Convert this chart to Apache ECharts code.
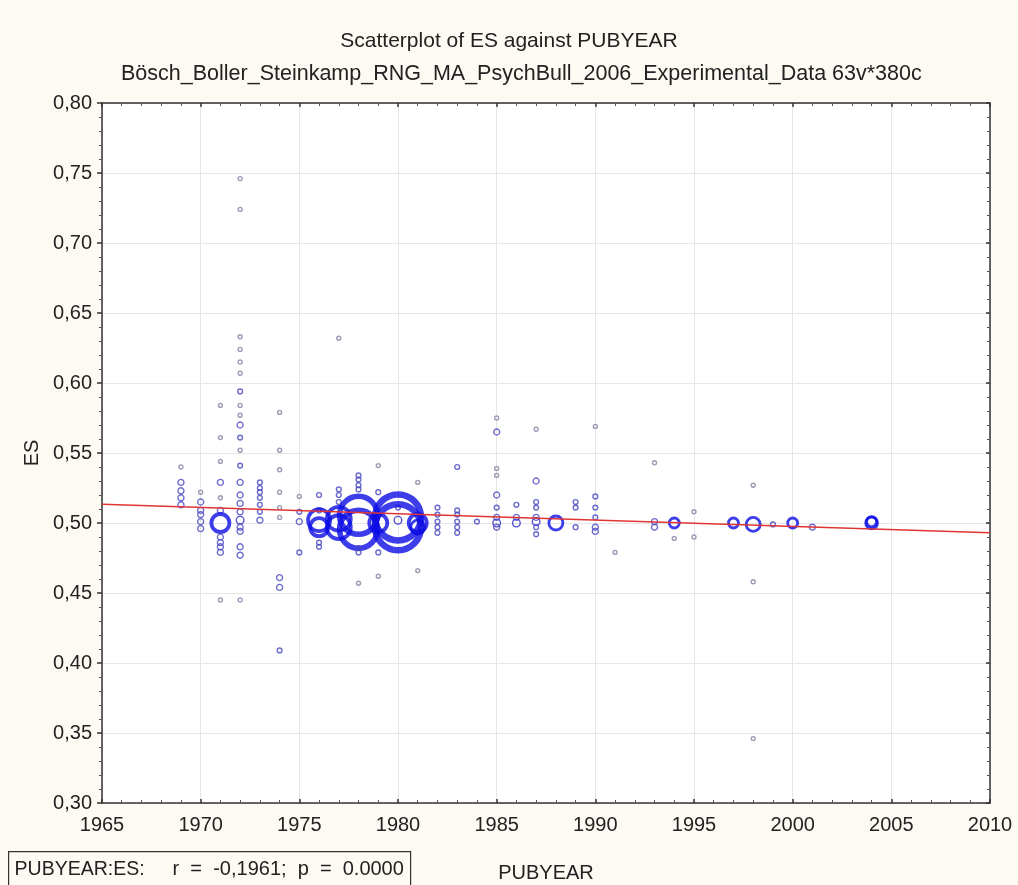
<!DOCTYPE html>
<html>
<head>
<meta charset="utf-8">
<script src="https://cdn.jsdelivr.net/npm/echarts@6/dist/echarts.min.js"></script>
<style>
  html, body { margin: 0; padding: 0; background: #fdfaf3; }
  #chart { width: 1018px; height: 885px; }
</style>
</head>
<body>
<div id="chart"></div>
<script>
// studies: publication year, effect size, relative bubble weight
const pubYear = [
  1969, 1969, 1969, 1969, 1969,
  1970, 1970, 1970, 1970, 1970, 1970,
  1971, 1971, 1971, 1971, 1971, 1971, 1971, 1971, 1971, 1971, 1971, 1971,
  1972, 1972, 1972, 1972, 1972, 1972, 1972, 1972, 1972, 1972, 1972, 1972, 1972, 1972, 1972, 1972, 1972, 1972, 1972, 1972, 1972, 1972, 1972,
  1973, 1973, 1973, 1973, 1973, 1973, 1973,
  1974, 1974, 1974, 1974, 1974, 1974, 1974, 1974, 1974,
  1975, 1975, 1975, 1975,
  1976, 1976, 1976, 1976, 1976, 1976,
  1977, 1977, 1977, 1977, 1977, 1977,
  1978, 1978, 1978, 1978, 1978, 1978, 1978, 1978, 1978,
  1979, 1979, 1979, 1979, 1979,
  1980, 1980, 1980, 1980,
  1981, 1981, 1981, 1981,
  1982, 1982, 1982, 1982, 1982,
  1983, 1983, 1983, 1983, 1983, 1983,
  1984,
  1985, 1985, 1985, 1985, 1985, 1985, 1985, 1985, 1985,
  1986, 1986, 1986,
  1987, 1987, 1987, 1987, 1987, 1987, 1987, 1987,
  1988,
  1989, 1989, 1989,
  1990, 1990, 1990, 1990, 1990, 1990,
  1991,
  1993, 1993, 1993,
  1994, 1994,
  1995, 1995,
  1997,
  1998, 1998, 1998, 1998,
  1999,
  2000,
  2001,
  2004, 2004
];
const esValue = [
  0.540, 0.529, 0.523, 0.518, 0.513,
  0.522, 0.515, 0.509, 0.506, 0.501, 0.496,
  0.584, 0.561, 0.544, 0.529, 0.518, 0.509, 0.500, 0.490, 0.486, 0.483, 0.479, 0.445,
  0.746, 0.724, 0.633, 0.624, 0.615, 0.607, 0.594, 0.584, 0.577, 0.570, 0.561, 0.552, 0.541, 0.529, 0.520, 0.514, 0.508, 0.502, 0.497, 0.494, 0.483, 0.477, 0.445,
  0.529, 0.525, 0.522, 0.518, 0.513, 0.508, 0.502,
  0.579, 0.552, 0.538, 0.522, 0.511, 0.504, 0.461, 0.454, 0.409,
  0.519, 0.508, 0.501, 0.479,
  0.520, 0.509, 0.502, 0.497, 0.486, 0.483,
  0.632, 0.524, 0.520, 0.515, 0.503, 0.497,
  0.534, 0.531, 0.527, 0.524, 0.5055, 0.4955, 0.482, 0.479, 0.457,
  0.541, 0.522, 0.500, 0.479, 0.462,
  0.511, 0.504, 0.497, 0.502,
  0.529, 0.500, 0.497, 0.466,
  0.511, 0.506, 0.501, 0.497, 0.493,
  0.540, 0.509, 0.506, 0.501, 0.497, 0.493,
  0.501,
  0.575, 0.565, 0.539, 0.534, 0.520, 0.511, 0.504, 0.500, 0.497,
  0.513, 0.504, 0.500,
  0.567, 0.530, 0.515, 0.511, 0.504, 0.501, 0.497, 0.492,
  0.500,
  0.515, 0.511, 0.497,
  0.569, 0.519, 0.511, 0.504, 0.497, 0.494,
  0.479,
  0.543, 0.501, 0.497,
  0.500, 0.489,
  0.508, 0.490,
  0.500,
  0.527, 0.499, 0.458, 0.346,
  0.499,
  0.500,
  0.497,
  0.500, 0.501
];
const weight = [
  0.25, 1, 1, 1, 1,
  0.25, 1, 1, 1, 1, 1,
  0.25, 0.25, 0.25, 1, 0.25, 1, 16, 1, 1, 1, 1, 0.25,
  0.25, 0.25, 0.25, 0.25, 0.25, 0.25, 0.5, 0.25, 0.25, 1, 0.5, 0.25, 0.5, 1, 1, 1, 1, 2, 1, 1, 1, 1, 0.25,
  0.5, 0.5, 0.5, 0.5, 0.5, 0.5, 1,
  0.25, 0.25, 0.25, 0.25, 0.25, 0.25, 1, 1, 0.5,
  0.25, 0.5, 1, 0.5,
  0.5, 0.5, 25, 16, 0.5, 0.5,
  0.25, 0.5, 0.5, 0.5, 30, 30,
  0.5, 0.5, 0.5, 0.5, 81, 81, 0.5, 0.5, 0.25,
  0.25, 0.5, 16, 0.5, 0.25,
  0.5, 121, 121, 2,
  0.25, 16, 9, 0.25,
  0.5, 0.5, 0.5, 0.5, 0.5,
  0.5, 0.5, 0.5, 0.5, 0.5, 0.5,
  0.5,
  0.25, 1, 0.25, 0.25, 1, 0.5, 1, 2, 1,
  0.5, 1, 2,
  0.25, 1, 0.5, 0.5, 1, 2, 0.5, 0.5,
  9,
  0.5, 0.5, 0.5,
  0.25, 0.5, 0.5, 0.5, 1, 1,
  0.25,
  0.25, 1, 1,
  4, 0.25,
  0.25, 0.25,
  4,
  0.25, 9, 0.25, 0.25,
  0.5,
  4,
  1,
  6, 4
];

// linear fit ES ~ PUBYEAR
const fitYear = [1965, 2010];
const fitES = [0.5134, 0.4931];

const xTicks = [1965, 1970, 1975, 1980, 1985, 1990, 1995, 2000, 2005, 2010];
const yTicks = [0.30, 0.35, 0.40, 0.45, 0.50, 0.55, 0.60, 0.65, 0.70, 0.75, 0.80];

const FONT = "'Liberation Sans', Arial, sans-serif";

function bubbleSize(w) {
  return 2 + 4 * Math.sqrt(w);
}

const points = pubYear.map((y, i) => {
  const s = bubbleSize(weight[i]);
  let color = '#0c0ce4';
  if (s <= 4.5) color = '#8484a4';
  else if (s <= 6.5) color = '#4848c0';
  else if (s <= 9) color = '#2a2ac8';
  let bw = 1.4;
  if (s >= 40) bw = 6.5;
  else if (s >= 28) bw = 5.5;
  else if (s >= 18) bw = 3.8;
  else if (s >= 10) bw = 2.8;
  return {
    value: [y, esValue[i]],
    symbolSize: s,
    itemStyle: { color: 'rgba(0,0,0,0)', borderColor: color, borderWidth: bw }
  };
});

const chart = echarts.init(document.getElementById('chart'));

const axisLabelStyle = { color: '#222', fontSize: 20, fontFamily: FONT };
const lineStyle = { color: '#333', width: 1.5 };

chart.setOption({
  backgroundColor: '#fdfaf3',
  animation: false,
  title: [
    {
      text: 'Scatterplot of ES against PUBYEAR',
      left: 'center', top: 26,
      textStyle: { color: '#222', fontSize: 21, fontWeight: 'normal', fontFamily: FONT }
    },
    {
      text: 'Bösch_Boller_Steinkamp_RNG_MA_PsychBull_2006_Experimental_Data 63v*380c',
      left: 116, top: 58,
      textStyle: { color: '#222', fontSize: 21.5, fontWeight: 'normal', fontFamily: FONT }
    }
  ],
  grid: {
    left: 102, right: 28, top: 103, bottom: 82,
    outerBoundsMode: 'none',
    show: true, backgroundColor: '#ffffff', borderWidth: 0
  },
  xAxis: [
    {
      type: 'value', min: xTicks[0], max: xTicks[xTicks.length - 1], interval: 5,
      name: 'PUBYEAR', nameLocation: 'middle', nameGap: 60,
      nameTextStyle: axisLabelStyle,
      axisLine: { lineStyle },
      axisTick: { inside: true, length: 4, lineStyle },
      minorTick: { show: true, splitNumber: 5, length: 3, lineStyle: { color: '#555' } },
      axisLabel: Object.assign({ margin: 12, formatter: v => String(v) }, axisLabelStyle),
      splitLine: { show: true, lineStyle: { color: '#e6e6e6', width: 1 } }
    },
    {
      type: 'value', position: 'top', min: xTicks[0], max: xTicks[xTicks.length - 1], interval: 5,
      axisLine: { lineStyle },
      axisTick: { inside: true, length: 4, lineStyle },
      minorTick: { show: true, splitNumber: 5, length: 3, lineStyle: { color: '#555' } },
      axisLabel: { show: false },
      splitLine: { show: false }
    }
  ],
  yAxis: [
    {
      type: 'value', min: yTicks[0], max: yTicks[yTicks.length - 1], interval: 0.05,
      name: 'ES', nameLocation: 'middle', nameGap: 48, nameRotate: 90,
      nameTextStyle: axisLabelStyle,
      axisLine: { lineStyle },
      axisTick: { inside: false, length: 5, lineStyle },
      minorTick: { show: true, splitNumber: 5, length: 3, lineStyle: { color: '#555' } },
      axisLabel: Object.assign({ margin: 10, formatter: v => v.toFixed(2).replace('.', ',') }, axisLabelStyle),
      splitLine: { show: true, lineStyle: { color: '#e6e6e6', width: 1 } }
    },
    {
      type: 'value', position: 'right', min: yTicks[0], max: yTicks[yTicks.length - 1], interval: 0.05,
      axisLine: { lineStyle },
      axisTick: { inside: true, length: 4, lineStyle },
      minorTick: { show: true, splitNumber: 5, length: 3, lineStyle: { color: '#555' } },
      axisLabel: { show: false },
      splitLine: { show: false }
    }
  ],
  series: [
    {
      type: 'scatter',
      symbol: 'circle',
      data: points,
      z: 3
    },
    {
      type: 'line',
      data: fitYear.map((y, i) => [y, fitES[i]]),
      symbol: 'none',
      lineStyle: { color: '#e03535', width: 1.5 },
      z: 4
    }
  ],
  graphic: [
    {
      type: 'group', left: 8, top: 851,
      children: [
        { type: 'rect', shape: { x: 0, y: 0, width: 402, height: 36 },
          style: { fill: '#fdfaf3', stroke: '#333', lineWidth: 1.2 } },
        { type: 'text', x: 6, y: 8,
          style: { text: 'PUBYEAR:ES:', fill: '#222', fontSize: 19.5, fontFamily: FONT } },
        { type: 'text', x: 164, y: 8,
          style: { text: 'r  =  -0,1961;  p  =  0.0000', fill: '#222', fontSize: 20, fontFamily: FONT } }
      ]
    }
  ]
});
</script>
</body>
</html>
